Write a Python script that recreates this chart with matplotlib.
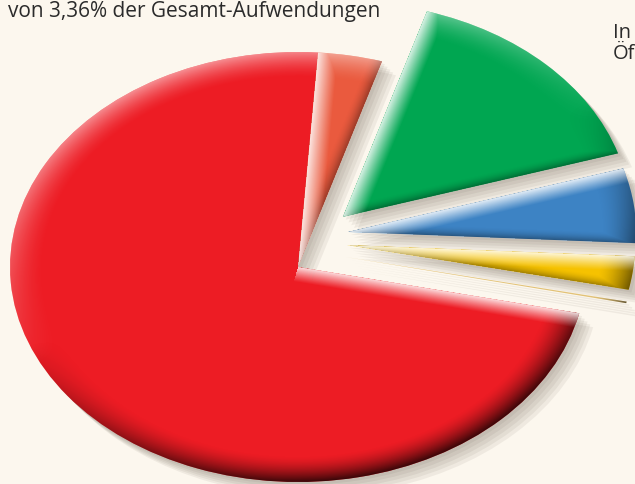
import numpy as np
import matplotlib
matplotlib.use("Agg")
import matplotlib.pyplot as plt
import matplotlib.patheffects as pe

# Anteile in Prozent, gegen den Uhrzeigersinn ab der roten Fläche
segmente = ["Rot", "Gelb schmal", "Gelb", "Blau", "Grün", "Orange"]
anteile = [72.6, 0.12, 2.5, 5.6, 15.5, 3.6]
farben = ["#ED1C24", "#E2C277", "#F6C200", "#3D83C4", "#00A651", "#EA5A3E"]
# Verschiebung der herausgezogenen Stücke (in Radien)
versatz = [(0, 0), (0.163, 0.047), (0.170, 0.102), (0.174, 0.163), (0.156, 0.233), (0, 0)]

titel = "von 3,36% der Gesamt-Aufwendungen"
rechts = "In\nÖf"
hintergrund = "#FCF7EE"

fig = plt.figure(figsize=(6.35, 4.84), dpi=100)
fig.patch.set_facecolor(hintergrund)
ax = fig.add_axes([0, 0, 1, 1])
ax.set_facecolor(hintergrund)

wedges, _ = ax.pie(anteile, colors=farben, startangle=86, counterclock=True,
                   wedgeprops=dict(linewidth=0))

# Ellipse statt Kreis
x0, x1 = -298 / 288, 337 / 288
y0, y1 = -(484 - 267) / 215, 267 / 215
ax.set_aspect("auto")
ax.axis("off")

schatten = [pe.SimplePatchShadow(offset=(k, -k), shadow_rgbFace="#5a5040", alpha=0.08)
            for k in (2, 4, 6, 8, 10)]

for w, (dx, dy) in zip(wedges, versatz):
    w.set_center((dx, dy))
    w.set_path_effects(schatten + [pe.Normal()])

# Wölbung: dunkler Rand unten/rechts, heller Rand oben/links,
# helle Schnittkante am Ende, dunkle am Anfang jedes Stücks
nx, ny = 635, 484
X, Y = np.meshgrid(np.linspace(x0, x1, nx), np.linspace(y1, y0, ny))
licht = np.array([-0.45, 0.89])
for w in wedges:
    cx, cy = w.center
    px, py = X - cx, Y - cy
    d = np.hypot(px, py)
    rand = np.clip((d - 0.88) / 0.12, 0, 1) ** 1.6
    s = (px * licht[0] + py * licht[1]) / np.maximum(d, 1e-6)
    a_dunkel = rand * np.clip(-s + 0.1, 0, 1) * 0.75
    a_hell = rand * np.clip(s, 0, 1) * 0.5

    t1, t2 = np.radians(w.theta1), np.radians(w.theta2)
    breite = w.theta2 - w.theta1
    if breite > 2:
        d_ende = px * np.sin(t2) - py * np.cos(t2)
        vor = px * np.cos(t2) + py * np.sin(t2)
        kante_hell = (1 - np.clip(d_ende / 0.07, 0, 1)) ** 1.1 * 0.85
        kante_hell = np.where((d_ende >= 0) & (vor > 0), kante_hell, 0)
        a_hell = np.maximum(a_hell, kante_hell)
        if breite < 180:
            d_anf = -px * np.sin(t1) + py * np.cos(t1)
            vor = px * np.cos(t1) + py * np.sin(t1)
            kante_dunkel = (1 - np.clip(d_anf / 0.05, 0, 1)) ** 1.8 * 0.35
            kante_dunkel = np.where((d_anf >= 0) & (vor > 0), kante_dunkel, 0)
            a_dunkel = np.maximum(a_dunkel, kante_dunkel)

    dunkel = np.zeros((ny, nx, 4))
    dunkel[..., 3] = a_dunkel
    hell = np.ones((ny, nx, 4))
    hell[..., 3] = a_hell
    for img in (dunkel, hell):
        im = ax.imshow(img, extent=(x0, x1, y0, y1), origin="upper",
                       aspect="auto", zorder=w.get_zorder() + 0.1,
                       interpolation="bilinear")
        im.set_clip_path(w)

ax.set_xlim(x0, x1)
ax.set_ylim(y0, y1)

fig.text(8 / 635, 1 - 1 / 484, titel, ha="left", va="top", fontsize=15,
         family="Open Sans", color="#2b2b2b")
fig.text(613 / 635, 1 - 23 / 484, rechts, ha="left", va="top", fontsize=14.5,
         family="Open Sans", color="#2b2b2b", linespacing=1.05)

fig.savefig("out.png", dpi=100, facecolor=hintergrund)
